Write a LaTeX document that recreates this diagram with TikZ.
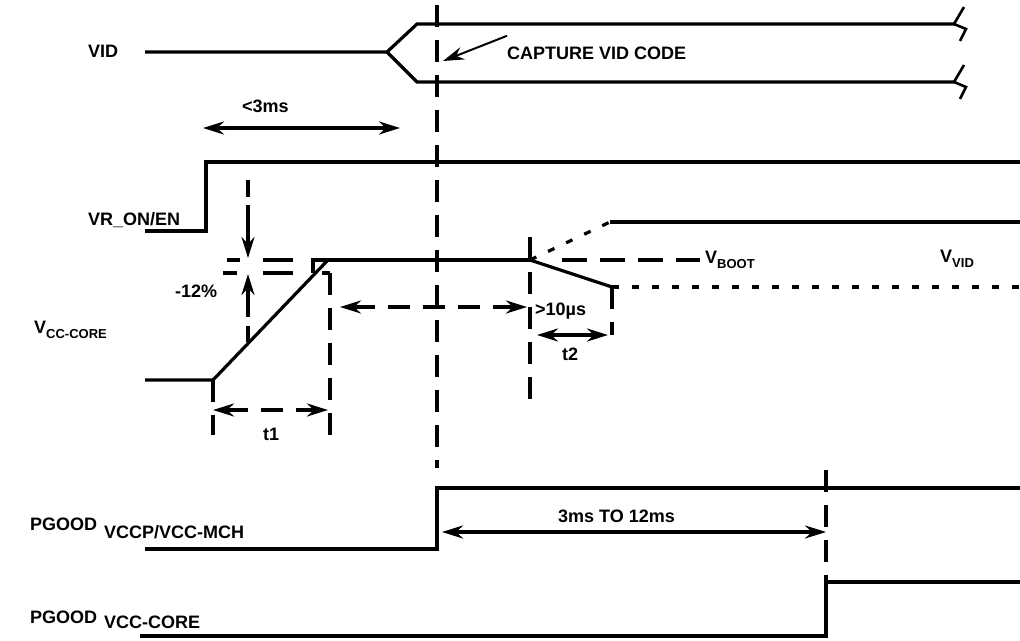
\documentclass[tikz,border=0pt]{standalone}
\usepackage{fontspec}
\setmainfont{Liberation Sans}
\usetikzlibrary{arrows.meta}
\newcommand{\lowtxt}[1]{\raisebox{-5pt}{\fontsize{13}{13}\selectfont #1}}

\begin{document}
\begin{tikzpicture}[x=1pt, y=-1pt, >={Stealth[length=21pt,width=13pt]},
  sig/.style={line width=3.2pt},
  dsh/.style={line width=3.2pt, dash pattern=on 22pt off 13pt},
  dots/.style={line width=3.2pt, dash pattern=on 7pt off 13pt},
  lbl/.style={font=\fontsize{18}{18}\selectfont\bfseries, inner sep=0pt, anchor=base west}]
  \useasboundingbox (0,0) rectangle (1020,640);

  % VID bus
  \draw[sig] (145,52) -- (387,52) -- (417,24) -- (955,24);
  \draw[sig] (387,52) -- (417,82) -- (955,82);
  \node[lbl] (vid) at (88,57) {VID};

  % Break marks
  \draw[line width=2.6pt] (964,7) -- (954,24) -- (966,29) -- (960,41);
  \draw[line width=2.6pt] (964,65) -- (954,82) -- (966,87) -- (960,99);

  % Capture point
  \draw[dsh] (437,5) -- (437,468);
  \node[lbl] (capture) at (507,59) {CAPTURE VID CODE};
  \draw[->, line width=2pt] (capture.west) ++(0,-17) -- (443,61);

  % <3ms
  \draw[<->, sig] (203,128) -- (400,128);
  \node[lbl] (lt3) at (242,112) {<3ms};

  % VR_ON/EN
  \draw[sig] (145,231) -- (206,231) -- (206,162) -- (1020,162);
  \node[lbl] (vron) at (88,225) {VR\_ON/EN};

  % VCC-CORE soft start
  \draw[sig] (145,380) -- (213,380) -- (328,260);
  \draw[sig] (313,273) -- (313,260) -- (530,260);
  \node[lbl] (vcore) at (34,333) {V\lowtxt{CC-CORE}};

  % -12% window
  \draw[sig] (227,260) -- (240,260) (263,260) -- (293,260);
  \draw[sig] (223,273) -- (237,273) (263,273) -- (293,273) (322,273) -- (330,273);
  \draw[sig] (248,180) -- (248,197);
  \draw[->, sig] (248,205) -- (248,258);
  \draw[->, sig] (248,317) -- (248,274);
  \draw[sig] (248,326) -- (248,342);
  \node[lbl] (pct) at (175,297) {-12\%};

  % t1
  \draw[dsh] (213,380) -- (213,435);
  \draw[dsh] (330,273) -- (330,436);
  \draw[<->, dsh] (213,410) -- (328,410);
  \node[lbl] (tone) at (263,440) {t1};

  % wait before droop
  \draw[<->, dsh] (340,307) -- (527,307);
  \draw[dsh] (530,237) -- (530,410);

  % VBOOT / VVID levels
  \draw[line width=3.2pt, dash pattern=on 25pt off 13pt] (562,260) -- (700,260);
  \node[lbl] (vboot) at (705,263) {V\lowtxt{BOOT}};
  \draw[sig] (530,260) -- (612,287);
  \draw[dots] (612,287) -- (1020,287);
  \draw[dots] (530,260) -- (610,222);
  \draw[sig] (610,222) -- (1020,222);
  \node[lbl] (vvid) at (940,262) {V\lowtxt{VID}};
  \node[lbl] (gt10) at (535,315) {>10µs};

  % t2
  \draw[dsh] (612,287) -- (612,335);
  \draw[<->, sig] (537,335) -- (608,335);
  \node[lbl] (ttwo) at (562,360) {t2};

  % PGOOD VCCP/VCC-MCH
  \draw[sig] (145,549) -- (437,549) -- (437,488) -- (1020,488);
  \node[lbl] (pg1) at (30,530) {PGOOD};
  \node[lbl] (pg1b) at (104,538) {VCCP/VCC-MCH};
  \draw[<->, sig] (442,532) -- (826,532);
  \node[lbl] (delay) at (558,522) {3ms TO 12ms};
  \draw[dsh] (826,470) -- (826,580);

  % PGOOD VCC-CORE
  \draw[sig] (140,636) -- (826,636) -- (826,582) -- (1020,582);
  \node[lbl] (pg2) at (30,623) {PGOOD};
  \node[lbl] (pg2b) at (104,628) {VCC-CORE};
\end{tikzpicture}
\end{document}
